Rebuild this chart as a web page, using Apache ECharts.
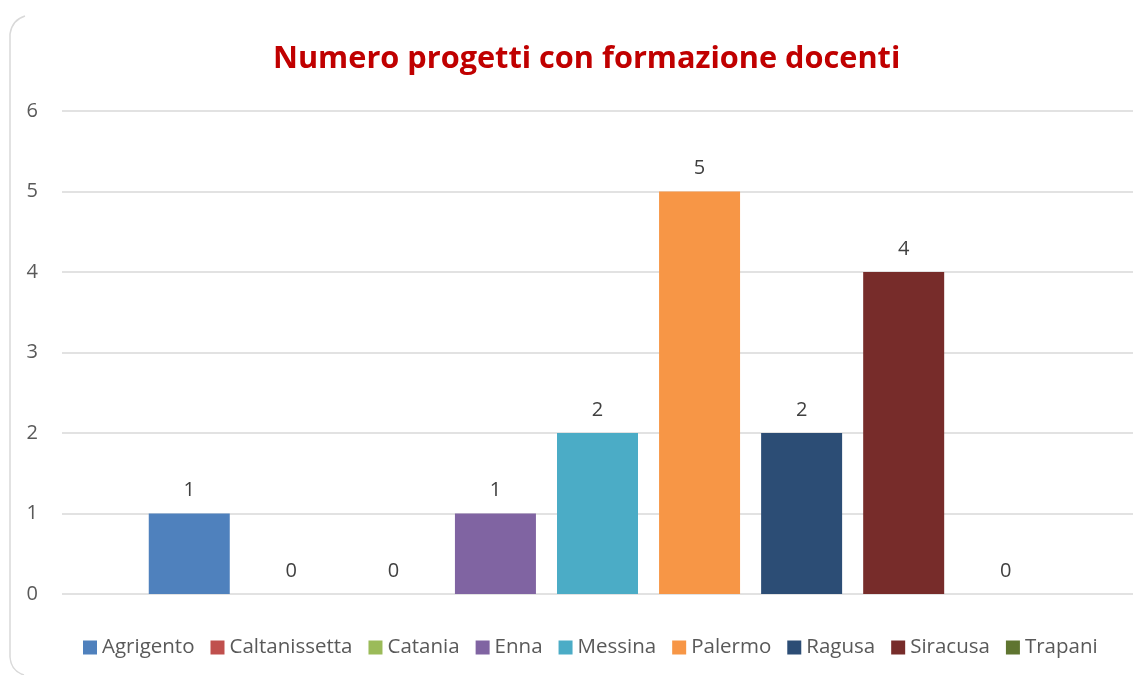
<!DOCTYPE html>
<html>
<head>
<meta charset="utf-8">
<script src="https://cdn.jsdelivr.net/npm/echarts@6/dist/echarts.min.js"></script>
<style>
  html, body { margin: 0; padding: 0; background: #ffffff; }
  #chart { width: 1145px; height: 675px; }
</style>
</head>
<body>
<div id="chart"></div>
<script>
const titleText = 'Numero progetti con formazione docenti';
const provinces = ['Agrigento', 'Caltanissetta', 'Catania', 'Enna', 'Messina', 'Palermo', 'Ragusa', 'Siracusa', 'Trapani'];
const projectCounts = [1, 0, 0, 1, 2, 5, 2, 4, 0];
const provinceColors = ['#4F81BD', '#C0504D', '#9BBB59', '#8064A2', '#4BACC6', '#F79646', '#2C4D75', '#772C2A', '#5F7530'];
const yTicks = [0, 1, 2, 3, 4, 5, 6];

const FONT = 'Open Sans';
const chart = echarts.init(document.getElementById('chart'), null, { renderer: 'canvas' });

const series = provinces.map((name, i) => ({
  name: name,
  type: 'bar',
  data: [projectCounts[i]],
  barWidth: 81,
  barGap: '26%',
  itemStyle: { color: provinceColors[i] },
  label: {
    show: true,
    position: 'top',
    distance: 13,
    color: '#404040',
    fontFamily: FONT,
    fontSize: 20
  },
  emphasis: { disabled: true }
}));

const borderStyle = { stroke: '#D9D9D9', lineWidth: 1.5, fill: null };

chart.setOption({
  animation: false,
  backgroundColor: '#ffffff',
  title: {
    text: titleText,
    left: 268,
    top: 39,
    textStyle: {
      color: '#C00000',
      fontFamily: FONT,
      fontWeight: 'bold',
      fontSize: 30.7
    }
  },
  legend: {
    data: provinces,
    left: 78,
    top: 632,
    itemWidth: 14,
    itemHeight: 14,
    itemGap: 16,
    icon: 'rect',
    textStyle: {
      color: '#595959',
      fontFamily: FONT,
      fontSize: 20.5
    }
  },
  grid: { left: 62, right: 12, top: 111, bottom: 81, containLabel: false },
  xAxis: {
    type: 'category',
    data: [''],
    axisLine: { show: false },
    axisTick: { show: false },
    axisLabel: { show: false }
  },
  yAxis: {
    type: 'value',
    min: yTicks[0],
    max: yTicks[yTicks.length - 1],
    interval: 1,
    axisLine: { show: false },
    axisTick: { show: false },
    axisLabel: {
      color: '#595959',
      fontFamily: FONT,
      fontSize: 20,
      margin: 24
    },
    splitLine: { lineStyle: { color: '#D9D9D9', width: 1.5 } }
  },
  graphic: [
    { type: 'bezierCurve', shape: { x1: 25, y1: 16, x2: 10, y2: 34, cpx1: 12, cpy1: 20 }, style: borderStyle, silent: true },
    { type: 'line', shape: { x1: 10, y1: 34, x2: 10, y2: 657 }, style: borderStyle, silent: true },
    { type: 'bezierCurve', shape: { x1: 10, y1: 657, x2: 24, y2: 675, cpx1: 11, cpy1: 671 }, style: borderStyle, silent: true }
  ],
  series: series
});
</script>
</body>
</html>
